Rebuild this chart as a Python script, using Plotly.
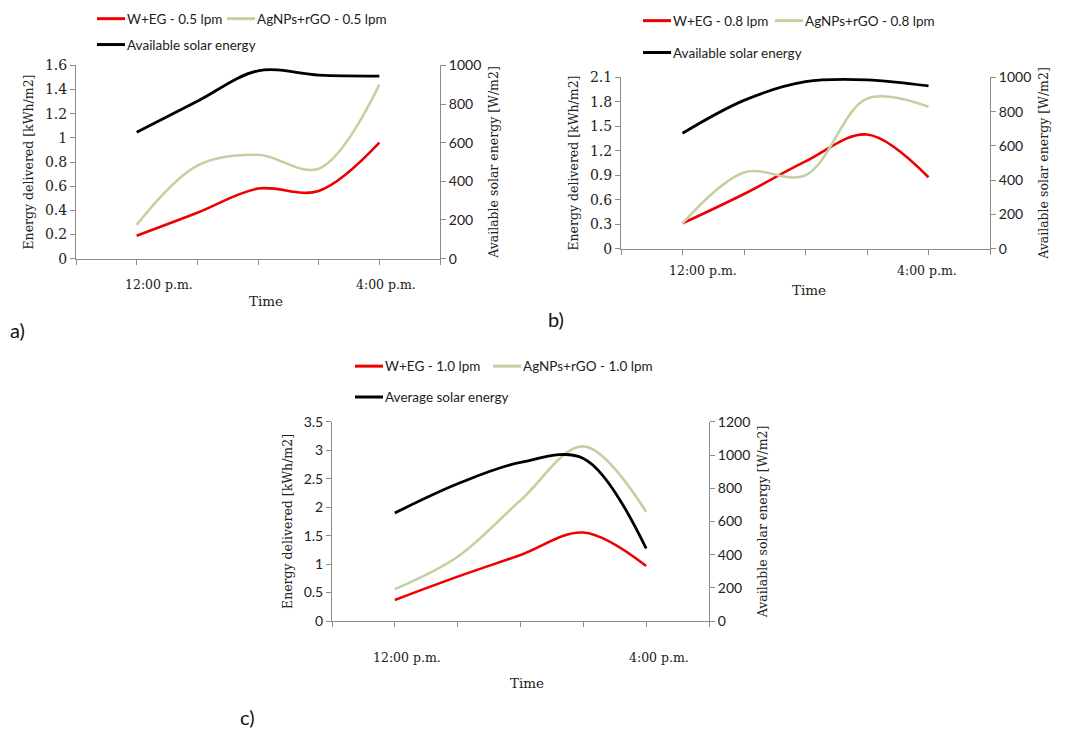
import plotly.graph_objects as go

# ---------------- data ----------------
hours = [0, 1, 2, 3, 4]
x_tick_labels = ["12:00 p.m.", "", "", "", "4:00 p.m."]

a_weg = [0.19, 0.38, 0.58, 0.56, 0.96]
a_ag = [0.28, 0.77, 0.86, 0.745, 1.44]
a_sol = [654, 815, 972, 950, 945]

b_weg = [0.31, 0.67, 1.07, 1.40, 0.875]
b_ag = [0.31, 0.935, 0.90, 1.84, 1.74]
b_sol = [674, 866, 975, 986, 950]

c_weg = [0.37, 0.78, 1.16, 1.555, 0.967]
c_ag = [0.56, 1.13, 2.12, 3.07, 1.92]
c_sol = [651, 827, 956, 980, 437]

a_names = ["W+EG - 0.5 lpm", "AgNPs+rGO - 0.5 lpm", "Available solar energy"]
b_names = ["W+EG - 0.8 lpm", "AgNPs+rGO - 0.8 lpm", "Available solar energy"]
c_names = ["W+EG - 1.0 lpm", "AgNPs+rGO - 1.0 lpm", "Average solar energy"]

RED = "#ee0000"
GREEN = "#c3d09f"
BLACK = "#000000"
AXIS = "#8c8c8c"
SERIF = "DejaVu Serif"
SANS = "Lato"
W, H = 1065, 730


def fy(ypx):
    """pixel row (from top) -> paper fraction, with a small calibration for the capture."""
    y = (ypx - 6.3) / 0.981
    return 1 - y / H


fig = go.Figure()

panels = [
    dict(weg=a_weg, ag=a_ag, sol=a_sol, names=a_names, n="", yl="", yr="2",
         xdom=(76, 440), ydom=(63, 257), lr=1.6, ld=0.2, rr=1000, rd=200,
         lab="a)", labxy=(8, 329), leg=(97, 16), leg2x=227, legdy=26,
         xoff=(0.36, 0.11), xlaby=283, timey=300, lfont=SERIF),
    dict(weg=b_weg, ag=b_ag, sol=b_sol, names=b_names, n="2", yl="3", yr="4",
         xdom=(621, 990), ydom=(75, 247), lr=2.1, ld=0.3, rr=1000, rd=200,
         lab="b)", labxy=(546, 318), leg=(643, 18), leg2x=775, legdy=32,
         xoff=(0.33, -0.03), xlaby=269, timey=289, lfont=SERIF),
    dict(weg=c_weg, ag=c_ag, sol=c_sol, names=c_names, n="3", yl="5", yr="6",
         xdom=(332, 709), ydom=(421, 621), lr=3.5, ld=0.5, rr=1200, rd=200,
         lab="c)", labxy=(238, 717), leg=(355, 365), leg2x=493, legdy=31,
         xoff=(0.2, 0.2), xlaby=658, timey=683, lfont=SANS),
]

layout = dict(
    width=W, height=H,
    margin=dict(l=0, r=0, t=0, b=0),
    paper_bgcolor="white", plot_bgcolor="white",
    showlegend=False,
    shapes=[], annotations=[],
)

for p in panels:
    xa = "x" + p["n"]
    yla = "y" + p["yl"]
    yra = "y" + p["yr"]
    fig.add_trace(go.Scatter(x=hours, y=p["weg"], mode="lines", name=p["names"][0],
                             line=dict(color=RED, width=2.6, shape="spline", smoothing=1),
                             xaxis=xa, yaxis=yla))
    fig.add_trace(go.Scatter(x=hours, y=p["ag"], mode="lines", name=p["names"][1],
                             line=dict(color=GREEN, width=2.6, shape="spline", smoothing=1),
                             xaxis=xa, yaxis=yla))
    fig.add_trace(go.Scatter(x=hours, y=p["sol"], mode="lines", name=p["names"][2],
                             line=dict(color=BLACK, width=2.8, shape="spline", smoothing=1),
                             xaxis=xa, yaxis=yra))

    x0, x1 = p["xdom"]
    yt, yb = p["ydom"]
    xdom = [x0 / W, x1 / W]
    ydom = [fy(yb), fy(yt)]

    layout["xaxis" + p["n"]] = dict(
        domain=xdom, anchor=yla, range=[-1, 5],
        tickmode="array", tickvals=[-1, 0, 1, 2, 3, 4, 5], ticktext=[""] * 7,
        ticks="outside", ticklen=5, tickcolor=AXIS,
        showline=True, linecolor=AXIS, linewidth=1,
        showgrid=False, zeroline=False, fixedrange=True,
    )
    layout["yaxis" + p["yl"]] = dict(
        domain=ydom, anchor=xa, range=[0, p["lr"]], dtick=p["ld"], tick0=0,
        ticks="outside", ticklen=5, tickcolor=AXIS,
        showline=True, linecolor=AXIS, linewidth=1,
        showgrid=False, zeroline=False,
        tickfont=dict(family=p["lfont"], size=14, color="#222"),
        title=dict(text="Energy delivered [kWh/m2]", font=dict(family=SERIF, size=12.5, color="#222"), standoff=8),
    )
    layout["yaxis" + p["yr"]] = dict(
        overlaying=yla, side="right", anchor=xa, range=[0, p["rr"]], dtick=p["rd"], tick0=0,
        ticks="outside", ticklen=5, tickcolor=AXIS,
        showline=True, linecolor=AXIS, linewidth=1,
        showgrid=False, zeroline=False,
        tickfont=dict(family=SANS, size=14, color="#222"),
        title=dict(text="Available solar energy [W/m2]", font=dict(family=SERIF, size=12.5, color="#222"), standoff=8),
    )

    for k, off in zip([0, len(hours) - 1], p["xoff"]):
        layout["annotations"].append(dict(
            x=hours[k] + off, y=fy(p["xlaby"]), xref=xa, yref="paper",
            text=x_tick_labels[k], showarrow=False,
            font=dict(family=SERIF, size=12.5, color="#222"), xanchor="center", yanchor="middle"))
    layout["annotations"].append(dict(
        x=2 + (p["xoff"][0] + p["xoff"][1]) / 2 - 0.1, y=fy(p["timey"]), xref=xa, yref="paper",
        text="Time", showarrow=False, font=dict(family=SERIF, size=13.5, color="#222"),
        xanchor="center", yanchor="middle"))
    layout["annotations"].append(dict(
        x=p["labxy"][0] / W, y=fy(p["labxy"][1]), xref="paper", yref="paper",
        text=p["lab"], showarrow=False, font=dict(family=SANS, size=20, color="#111"),
        xanchor="left", yanchor="middle"))

    lx, ly = p["leg"]
    items = [(lx, ly, RED, p["names"][0]),
             (p["leg2x"], ly, GREEN, p["names"][1]),
             (lx, ly + p["legdy"], BLACK, p["names"][2])]
    for ix, iy, col, name in items:
        layout["shapes"].append(dict(
            type="line", xref="paper", yref="paper",
            x0=ix / W, x1=(ix + 28) / W, y0=fy(iy), y1=fy(iy),
            line=dict(color=col, width=3)))
        layout["annotations"].append(dict(
            x=(ix + 28) / W, y=fy(iy), xref="paper", yref="paper",
            text=name, showarrow=False, font=dict(family=SANS, size=13.5, color="#222"),
            xanchor="left", yanchor="middle"))

fig.update_layout(**layout)
post = ("document.documentElement.style.margin='0';document.body.style.margin='0';"
        "document.body.style.overflow='hidden';document.documentElement.style.overflow='hidden';"
        "var d=document.getElementById('{plot_id}');d.style.position='fixed';d.style.top='0px';d.style.left='0px';")
fig.write_html("out.html", config={"displayModeBar": False}, post_script=post)
